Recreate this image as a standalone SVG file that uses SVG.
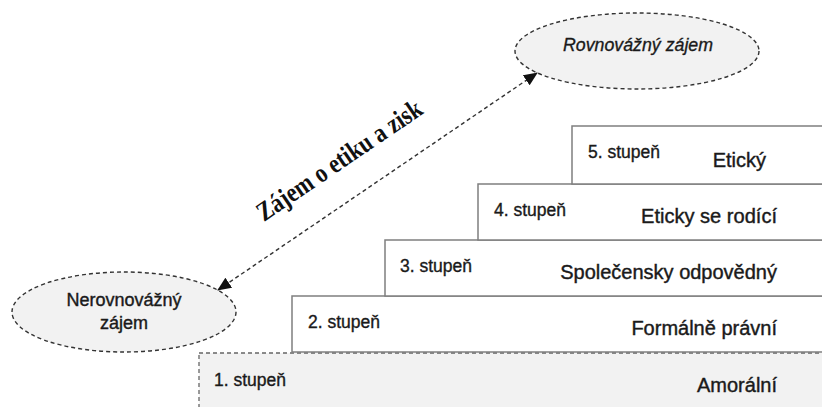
<svg xmlns="http://www.w3.org/2000/svg" width="822" height="407" viewBox="0 0 822 407">
<style>
.box{fill:#ffffff;stroke:#7f7f7f;stroke-width:1.5}
.box1{fill:#f2f2f2;stroke:#666;stroke-width:1.3;stroke-dasharray:4 3}
.ell{fill:#f2f2f2;stroke:#333;stroke-width:1.4;stroke-dasharray:4 3}
.lvl{font-family:"Liberation Sans",Arial,sans-serif;font-size:17.5px;fill:#1a1a1a;stroke:#1a1a1a;stroke-width:0.35}
.name{font-family:"Liberation Sans",Arial,sans-serif;font-size:20px;fill:#1a1a1a;stroke:#1a1a1a;stroke-width:0.4;text-anchor:end}
.etxt{font-family:"Liberation Sans",Arial,sans-serif;font-size:18px;fill:#1a1a1a;stroke:#1a1a1a;stroke-width:0.4;text-anchor:middle}
.conn{fill:none;stroke:#333;stroke-width:1.4;stroke-dasharray:4 3}
</style>
<defs>
<marker id="ah" markerUnits="userSpaceOnUse" markerWidth="14" markerHeight="12" refX="13" refY="6" orient="auto-start-reverse">
<path d="M0,0 L14,6 L0,12 Z" fill="#111"/>
</marker>
</defs>
<rect width="822" height="407" fill="#ffffff"/>
<g id="stupen1">
<rect class="box1" x="199" y="353" width="640" height="70"/>
<text class="lvl" x="214" y="386">1. stupeň</text>
<text class="name" x="777" y="392">Amorální</text>
</g>
<g id="stupen2">
<rect class="box" x="292" y="296" width="560" height="56"/>
<text class="lvl" x="308" y="328">2. stupeň</text>
<text class="name" x="777" y="335">Formálně právní</text>
</g>
<g id="stupen3">
<rect class="box" x="385" y="240" width="460" height="56"/>
<text class="lvl" x="400" y="272">3. stupeň</text>
<text class="name" x="777" y="279">Společensky odpovědný</text>
</g>
<g id="stupen4">
<rect class="box" x="478" y="184" width="360" height="56"/>
<text class="lvl" x="494" y="216">4. stupeň</text>
<text class="name" x="777" y="223" textLength="136" lengthAdjust="spacingAndGlyphs">Eticky se rodící</text>
</g>
<g id="stupen5">
<rect class="box" x="572" y="126" width="260" height="58"/>
<text class="lvl" x="588" y="158">5. stupeň</text>
<text class="name" x="766" y="167">Etický</text>
</g>
<g id="nerovnovazny">
<ellipse class="ell" cx="124" cy="312" rx="112" ry="40"/>
<text class="etxt" x="124" y="306">Nerovnovážný</text>
<text class="etxt" x="124" y="329">zájem</text>
</g>
<g id="rovnovazny">
<ellipse class="ell" cx="637" cy="51" rx="122" ry="38"/>
<text x="638" y="51" text-anchor="middle" font-family="Liberation Sans,Arial,sans-serif" font-style="italic" font-size="19" fill="#1a1a1a" stroke="#1a1a1a" stroke-width="0.35" textLength="150" lengthAdjust="spacingAndGlyphs">Rovnovážný zájem</text>
</g>
<g id="connectors">
<line class="conn" x1="218" y1="290" x2="537" y2="73" marker-start="url(#ah)" marker-end="url(#ah)"/>
<text x="264" y="222" transform="rotate(-34.2 264 222)" font-family="Liberation Serif,Times New Roman,serif" font-weight="bold" font-size="27" fill="#111" textLength="194" lengthAdjust="spacingAndGlyphs">Zájem o etiku a zisk</text>
</g>
</svg>
